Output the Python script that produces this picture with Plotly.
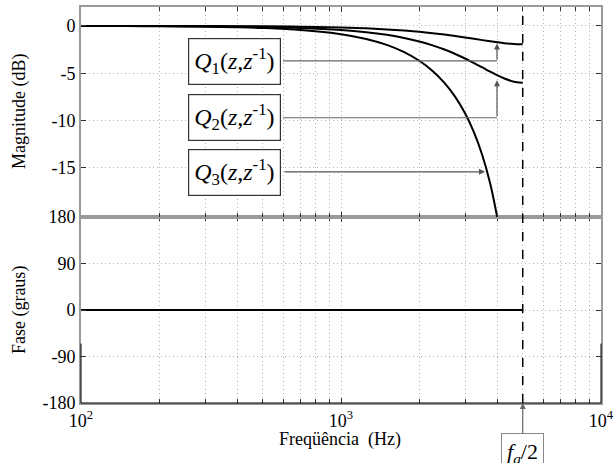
import math
import plotly.graph_objects as go

# ---- data ----
freq = [100, 150, 200, 300, 400, 500, 700, 1000, 1250, 1500, 1750, 2000, 2250,
        2500, 2750, 3000, 3250, 3500, 3750, 4000, 4250, 4500, 4750, 5000]
mag_q1 = [-0.002, -0.004, -0.007, -0.015, -0.027, -0.043, -0.083, -0.168, -0.258,
          -0.366, -0.488, -0.622, -0.766, -0.915, -1.067, -1.219, -1.366, -1.502,
          -1.626, -1.733, -1.821, -1.885, -1.925, -1.938]
mag_q2 = [-0.004, -0.010, -0.017, -0.039, -0.069, -0.107, -0.209, -0.425, -0.661,
          -0.945, -1.275, -1.647, -2.057, -2.499, -2.964, -3.443, -3.924, -4.393,
          -4.834, -5.228, -5.560, -5.811, -5.967, -6.021]
freq_q3 = [100, 150, 200, 300, 400, 500, 700, 1000, 1250, 1500, 1750, 2000, 2250,
           2500, 2750, 3000, 3250, 3500, 3750, 4000]
mag_q3 = [-0.009, -0.019, -0.034, -0.077, -0.138, -0.215, -0.424, -0.871, -1.376,
          -2.005, -2.769, -3.682, -4.758, -6.021, -7.498, -9.231, -11.277, -13.718,
          -16.686, -20.400]
freq_phase = [100, 5000]
phase = [0, 0]
nyquist = 5000

mag_ticks = [0, -5, -10, -15]
mag_ticktext = ["0", "-5", "-10", "-15"]
phase_ticks = [180, 90, 0, -90, -180]
phase_ticktext = ["180", "90", "0", "-90", "-180"]
x_major = [100, 1000, 10000]
x_major_text = ["10<sup>2</sup>", "10<sup>3</sup>", "10<sup>4</sup>"]

FONT = "Liberation Serif, Times New Roman, serif"
GRID = "#b4b4b4"
FRAME = "#9a9a9a"
TICK = "#333333"

fig = go.Figure()
for yy, xx in ((mag_q1, freq), (mag_q2, freq), (mag_q3, freq_q3)):
    fig.add_trace(go.Scatter(x=xx, y=yy, mode="lines", line=dict(color="black", width=2, shape="spline"),
                             xaxis="x2", yaxis="y2", showlegend=False, hoverinfo="skip"))
fig.add_trace(go.Scatter(x=freq_phase, y=phase, mode="lines", line=dict(color="black", width=2),
                         xaxis="x", yaxis="y", showlegend=False, hoverinfo="skip"))

minor = dict(dtick="D1", ticks="inside", ticklen=4, tickcolor=TICK, showgrid=True,
             gridcolor=GRID, griddash="1px,3px", gridwidth=1)
common_x = dict(type="log", range=[2, 4], tickvals=x_major, ticktext=x_major_text, ticks="inside",
                ticklen=5, tickcolor=TICK, showline=True, linecolor=FRAME, linewidth=2, mirror="ticks",
                showgrid=True, gridcolor=GRID, griddash="1px,3px", gridwidth=1, zeroline=False,
                automargin=False, minor=minor,
                tickfont=dict(family=FONT, size=18, color="black"))
common_y = dict(ticks="inside", ticklen=5, tickcolor=TICK, showline=True, linecolor=FRAME,
                linewidth=2, mirror="ticks", showgrid=True, gridcolor=GRID, griddash="1px,3px",
                zeroline=False, automargin=False, tickfont=dict(family=FONT, size=18, color="black"))

split = 186 / 396
fig.update_layout(
    width=616, height=463,
    margin=dict(l=81, r=15, t=7, b=60, autoexpand=False),
    paper_bgcolor="white", plot_bgcolor="white",
    font=dict(family=FONT, size=18, color="black"),
    xaxis=dict(common_x, anchor="y", domain=[0, 1], showticklabels=True),
    yaxis=dict(common_y, anchor="x", domain=[0, split], range=[-180, 180],
               tickvals=phase_ticks, ticktext=phase_ticktext),
    xaxis2=dict(common_x, anchor="y2", domain=[0, 1], matches="x", showticklabels=False),
    yaxis2=dict(common_y, anchor="x2", domain=[split, 1], range=[-20.2, 2.0],
                tickvals=mag_ticks, ticktext=mag_ticktext),
)

# black lower frame of the phase axes
fig.add_shape(type="line", xref="paper", yref="paper", x0=0, x1=1, y0=0, y1=0,
              line=dict(color="black", width=1.2))
fig.add_shape(type="line", xref="paper", yref="paper", x0=0, x1=0, y0=0, y1=0.15,
              line=dict(color="black", width=1))
fig.add_shape(type="line", xref="paper", yref="paper", x0=1, x1=1, y0=0, y1=0.15,
              line=dict(color="black", width=1))
# Nyquist dashed line
fig.add_shape(type="line", xref="x", yref="paper", x0=nyquist, x1=nyquist, y0=0, y1=1,
              line=dict(color="black", width=1.5, dash="dash"))

ann = []
# axis titles
ann.append(dict(text="Magnitude (dB)", xref="paper", yref="paper", x=-0.117, y=0.735,
                xanchor="center", yanchor="middle",
                textangle=-90, showarrow=False, font=dict(family=FONT, size=18)))
ann.append(dict(text="Fase (graus)", xref="paper", yref="paper", x=-0.117, y=0.235,
                xanchor="center", yanchor="middle",
                textangle=-90, showarrow=False, font=dict(family=FONT, size=18)))
ann.append(dict(text="Freqüência&nbsp;&nbsp;(Hz)", xref="paper", yref="paper", x=0.498, y=-0.093,
                xanchor="center", yanchor="middle", showarrow=False, font=dict(family=FONT, size=18)))
# f_a/2 label
ann.append(dict(text="<i>f</i><sub><i>a</i></sub>/2", xref="x", yref="paper", x=math.log10(nyquist), y=0,
                ax=0, ay=50, showarrow=True, arrowhead=2, arrowsize=1, arrowwidth=1.2,
                arrowcolor="#666", bordercolor="#888", borderwidth=1, borderpad=5, bgcolor="white",
                font=dict(family=FONT, size=22, color="black")))

# Q labels
box_f = 389
corner_f = 3981
labels = [("1", -3.75, -3.70, -1.85), ("2", -9.66, -9.71, -5.75), ("3", -15.47, -15.42, None)]
for idx, cy, ly, tip in labels:
    if tip is not None:
        fig.add_shape(type="line", xref="x2", yref="y2", x0=598, x1=corner_f, y0=ly, y1=ly,
                      line=dict(color="#666", width=1.2))
        ann.append(dict(text="", xref="x2", yref="y2", axref="x2", ayref="y2",
                        x=math.log10(corner_f), y=tip, ax=math.log10(corner_f), ay=ly,
                        showarrow=True, arrowhead=2, arrowsize=1, arrowwidth=1.2, arrowcolor="#555"))
    else:
        ann.append(dict(text="", xref="x2", yref="y2", axref="x2", ayref="y2",
                        x=math.log10(3580), y=ly, ax=math.log10(598), ay=ly,
                        showarrow=True, arrowhead=2, arrowsize=1, arrowwidth=1.2, arrowcolor="#555"))
    ann.append(dict(text="<i>Q</i><sub>%s</sub>(<i>z</i>,<i>z</i><sup>-1</sup>)" % idx,
                    xref="x2", yref="y2", x=math.log10(box_f), y=cy, showarrow=False,
                    bordercolor="#333", borderwidth=1.2, borderpad=5, bgcolor="white",
                    font=dict(family=FONT, size=24, color="black")))

fig.update_layout(annotations=ann)
fig.write_html("out.html", config={"displayModeBar": False},
               post_script="document.body.style.margin='0';document.body.style.overflow='hidden';")
